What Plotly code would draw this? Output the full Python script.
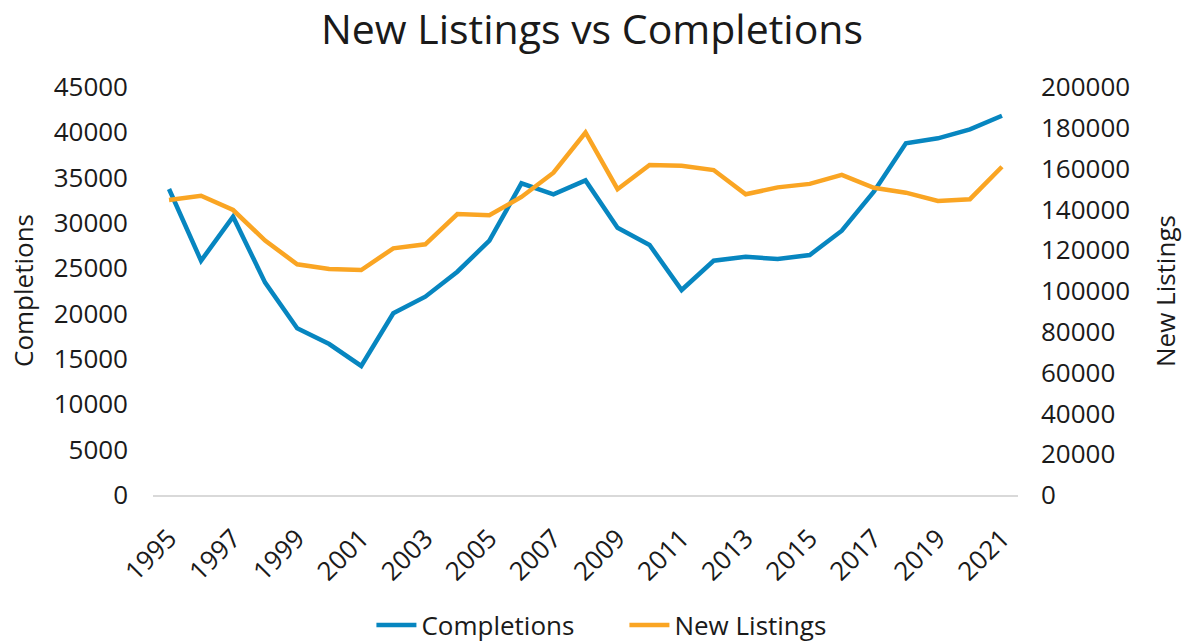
import plotly.graph_objects as go

years = list(range(1995, 2022))
completions = [33750, 25840, 30700, 23420, 18380, 16650, 14230, 20040, 21870, 24630,
               28050, 34380, 33160, 34700, 29480, 27570, 22610, 25840, 26280, 26030,
               26470, 29150, 33450, 38790, 39340, 40330, 41830]
new_listings = [144600, 146700, 139700, 124700, 113100, 110800, 110300, 120900, 122900, 137700,
                137100, 146100, 158000, 177700, 149900, 161800, 161400, 159300, 147400, 150800,
                152500, 156900, 150600, 148200, 144100, 145000, 160900]
x_ticks = list(range(1995, 2022, 2))
left_ticks = list(range(0, 45001, 5000))
right_ticks = list(range(0, 200001, 20000))

BLUE = "#0786C0"
ORANGE = "#FAA523"
FONT = "Open Sans"
FS = 26

fig = go.Figure()
fig.add_trace(go.Scatter(x=years, y=completions, name="Completions", mode="lines",
                         line=dict(color=BLUE, width=4.5), yaxis="y"))
fig.add_trace(go.Scatter(x=years, y=new_listings, name="New Listings", mode="lines",
                         line=dict(color=ORANGE, width=4.5), yaxis="y2"))

fig.update_layout(
    width=1184, height=644,
    margin=dict(l=153, r=166, t=87, b=149, autoexpand=False),
    paper_bgcolor="white", plot_bgcolor="white",
    font=dict(family=FONT, size=FS, color="#1a1a1a"),
    title=dict(text="New Listings vs Completions", x=0.5, xanchor="center",
               y=1 - 30 / 644, yanchor="middle", font=dict(size=41, color="#1a1a1a")),
    xaxis=dict(range=[1994.5, 2021.5], tickvals=x_ticks, ticktext=[str(v) for v in x_ticks],
               tickangle=-45, showgrid=False, zeroline=False, showline=True,
               linecolor="#d9d9d9", linewidth=1.5, ticks="", automargin=False,
               ticklabelstandoff=16, tickfont=dict(size=FS)),
    yaxis=dict(range=[0, 45000], tickvals=left_ticks, ticktext=[str(v) for v in left_ticks],
               showgrid=False, zeroline=False, showline=False, ticks="", automargin=False,
               ticklabelstandoff=24, tickfont=dict(size=FS)),
    yaxis2=dict(range=[0, 200000], tickvals=right_ticks, ticktext=[str(v) for v in right_ticks],
                overlaying="y", side="right", showgrid=False, zeroline=False, showline=False,
                ticks="", automargin=False, ticklabelstandoff=22, tickfont=dict(size=FS)),
    legend=dict(orientation="h", x=0.545, xanchor="center", y=-(625 - 495) / 408,
                yanchor="middle", font=dict(size=FS), itemwidth=40,
                entrywidth=198, entrywidthmode="pixels"),
    showlegend=True,
    annotations=[
        dict(text="Completions", xref="paper", yref="paper", x=-(153 - 23) / 865, y=0.5,
             xanchor="center", yanchor="middle", textangle=-90, showarrow=False,
             font=dict(size=FS)),
        dict(text="New Listings", xref="paper", yref="paper", x=1 + (1165 - 1018) / 865, y=0.5,
             xanchor="center", yanchor="middle", textangle=-90, showarrow=False,
             font=dict(size=FS)),
    ],
)

fig.write_html("out.html", config={"displayModeBar": False},
               post_script="document.body.style.margin='0';document.body.style.overflow='hidden';")
